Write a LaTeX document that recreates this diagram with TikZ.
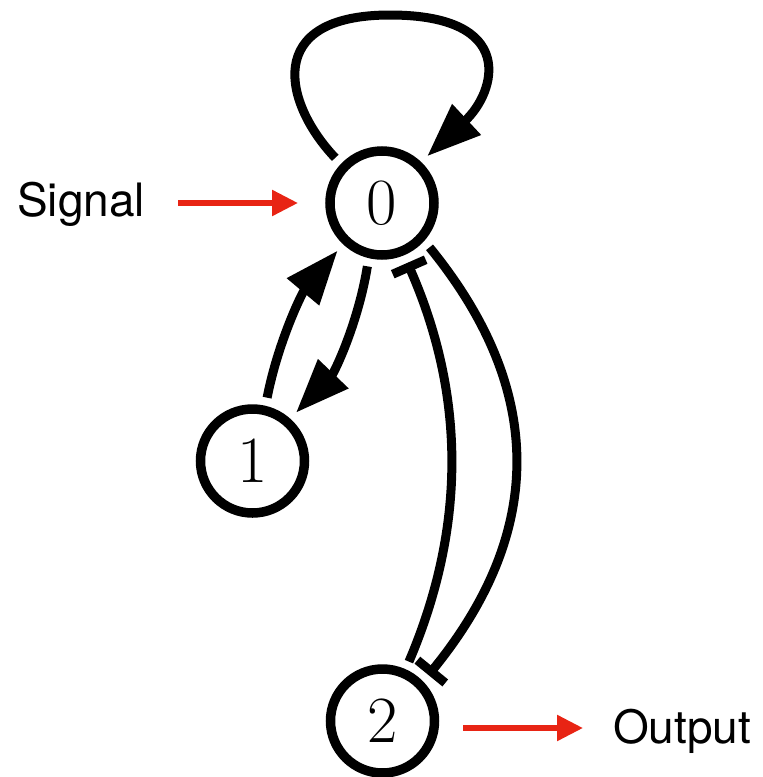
\documentclass[tikz,border=0pt]{standalone}
\usepackage{fontspec}
\newfontfamily\labelfont{TeX Gyre Heros}
\usetikzlibrary{arrows.meta}
\definecolor{sigred}{RGB}{232,36,20}
\begin{document}
\begin{tikzpicture}[x=1pt,y=-1pt,
  state/.style={circle, draw, line width=9.5pt, minimum size=104pt, inner sep=0pt,
                outer sep=13pt, font=\fontsize{66}{66}\selectfont},
  link/.style={line width=9pt},
  act/.style={link, -{Triangle[length=54pt,width=40pt]}},
  inhib/.style={link, -{Bar[width=36pt]}},
  io/.style={line width=5.5pt, sigred, -{Triangle[length=26pt,width=25pt]}},
  iolabel/.style={font=\labelfont\fontsize{46}{46}\selectfont, inner sep=0pt, anchor=base west}]
\useasboundingbox (0,0) rectangle (763,777);

% states
\node[state] (n0) at (382,203) {0};
\node[state] (n1) at (252.5,461) {1};
\node[state] (n2) at (382.5,721) {2};

% self-activation of 0
\draw[act] (n0.136) .. controls (284,104) and (262,15) .. (390,15)
                    .. controls (518,15) and (496,92) .. (n0.46);

% mutual activation 0 <-> 1
\draw[act] (n1.77) .. controls (278,342) and (302,293) .. (n0.227.5);
\draw[act] (n0.257) .. controls (358,324) and (334,373) .. (n1.48);

% mutual inhibition 0 <-> 2
\draw[inhib] (n2.66) .. controls (466,528) and (466,396) .. (n0.293.5);
\draw[inhib] (n0.317.5) .. controls (545,389) and (546,531) .. (n2.45);

% input and output
\node[iolabel] (sig) at (17,216) {Signal};
\node[iolabel] (out) at (613,743) {Output};
\coordinate (sigA) at (178,203);
\coordinate (sigB) at (298,203);
\coordinate (outA) at (463,728);
\coordinate (outB) at (583,728);
\draw[io] (sigA) -- (sigB);
\draw[io] (outA) -- (outB);
\end{tikzpicture}
\end{document}
